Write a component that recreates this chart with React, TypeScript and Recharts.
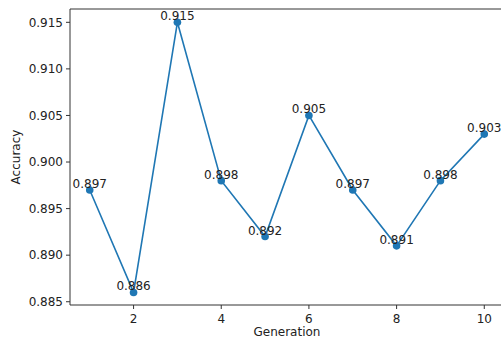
import { LineChart, Line, XAxis, YAxis, LabelList, ReferenceLine } from 'recharts';

const generations = [1, 2, 3, 4, 5, 6, 7, 8, 9, 10];
const accuracy = [0.897, 0.886, 0.915, 0.898, 0.892, 0.905, 0.897, 0.891, 0.898, 0.903];
const xTicks = [2, 4, 6, 8, 10];
const yTicks = [0.885, 0.89, 0.895, 0.9, 0.905, 0.91, 0.915];

const data = generations.map((g, i) => ({ generation: g, accuracy: accuracy[i] }));

const FONT = 'DejaVu Sans, sans-serif';
const TEXT = '#222';
const AXIS = '#333';
const BLUE = '#1f77b4';
const Y_MIN = 0.88465;
const Y_MAX = 0.91643;

const PointLabel = (props: any) => {
  const { x, y, value } = props;
  return (
    <text x={x} y={y - 2} textAnchor="middle" fontSize={12} fontFamily={FONT} fill={TEXT}>
      {Number(value).toFixed(3)}
    </text>
  );
};

export default function App() {
  return (
    <div
      style={{
        position: 'absolute',
        left: 0,
        top: 0,
        width: 501,
        height: 339,
        overflow: 'hidden',
        background: '#fff',
      }}
    >
      <LineChart width={520} height={339} data={data} margin={{ top: 9, right: 16, left: 0, bottom: 0 }}>
        <XAxis
          dataKey="generation"
          type="number"
          domain={[0.55, 10.45]}
          ticks={xTicks}
          allowDataOverflow
          height={34}
          stroke={AXIS}
          tickSize={4}
          tickMargin={5}
          tick={{ fontSize: 12, fontFamily: FONT, fill: TEXT }}
          label={(p: any) => {
            const vb = p.viewBox;
            return (
              <text x={vb.x + vb.width / 2} y={335.5} textAnchor="middle" fontSize={12} fontFamily={FONT} fill={TEXT}>
                Generation
              </text>
            );
          }}
        />
        <YAxis
          type="number"
          domain={[Y_MIN, Y_MAX]}
          ticks={yTicks}
          allowDataOverflow
          width={70}
          stroke={AXIS}
          tickSize={4}
          tickMargin={3}
          tickFormatter={(v: number) => v.toFixed(3)}
          tick={{ fontSize: 12, fontFamily: FONT, fill: TEXT }}
          label={(p: any) => {
            const vb = p.viewBox;
            const cy = vb.y + vb.height / 2;
            return (
              <text
                x={19.5}
                y={cy}
                transform={`rotate(-90, 19.5, ${cy})`}
                textAnchor="middle"
                fontSize={12}
                fontFamily={FONT}
                fill={TEXT}
              >
                Accuracy
              </text>
            );
          }}
        />
        <ReferenceLine y={Y_MAX} stroke={AXIS} strokeWidth={1} />
        <Line
          dataKey="accuracy"
          stroke={BLUE}
          strokeWidth={1.6}
          dot={{ r: 3.8, fill: BLUE, stroke: BLUE, strokeWidth: 0 }}
          activeDot={false}
          isAnimationActive={false}
        >
          <LabelList dataKey="accuracy" content={PointLabel} />
        </Line>
      </LineChart>
    </div>
  );
}
